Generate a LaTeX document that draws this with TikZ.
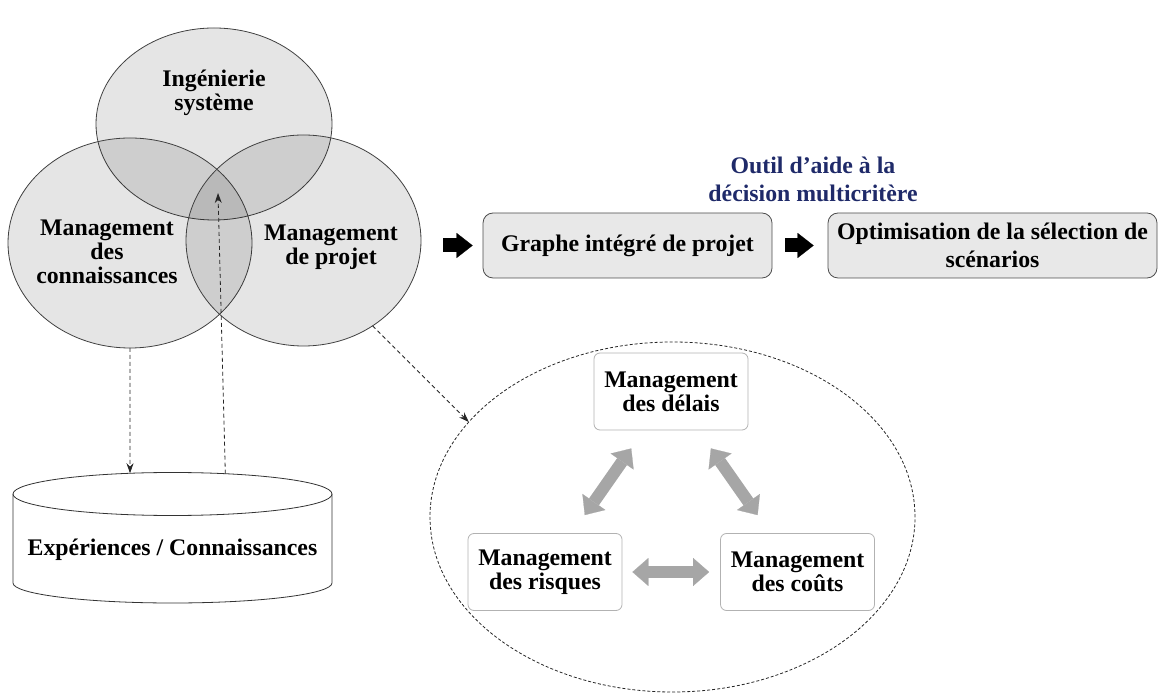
\documentclass[tikz,border=0pt]{standalone}
\usepackage{fontspec}
\setmainfont{Liberation Serif}
\usepackage{xcolor}
\usepackage{tikz}
\usetikzlibrary{positioning,shapes.geometric,arrows.meta}
\definecolor{outilblue}{RGB}{31,42,105}

\begin{document}
\begin{tikzpicture}[x=0.5pt, y=0.5pt, on grid,
    font=\bfseries\fontsize{11.9}{12.1}\selectfont,
    fieldcircle/.style={ellipse, draw=black!75, fill=black, fill opacity=0.1, draw opacity=1, inner sep=0pt, outer sep=0pt},
    fieldtext/.style={align=center, inner sep=0pt},
    procbox/.style={draw=black!70, fill=black!9, rounded corners=5pt, minimum height=32.5pt, align=center, font=\bfseries\fontsize{11.9}{14}\selectfont},
    mgtbox/.style={draw=black!30, fill=white, rounded corners=3pt, minimum width=77pt, minimum height=38.5pt, align=center},
    blockarrow/.style={line width=7pt, -{Triangle[length=8pt, width=12.5pt, line width=0.1pt]}},
    relarrow/.style={line width=6pt, black!35, {Triangle[length=8pt, width=14pt, line width=0.1pt]}-{Triangle[length=8pt, width=14pt, line width=0.1pt]}, shorten <=11pt, shorten >=11pt},
    linkarrow/.style={black!85, dash pattern=on 2pt off 1.5pt, -{Stealth[length=5pt, width=3.5pt]}}]
  \useasboundingbox (0,0) rectangle (1159,695);

  \node[fieldcircle, minimum width=118pt, minimum height=96pt] (is) at (214,571) {};
  \node[fieldcircle, minimum width=122pt, minimum height=105pt] (mc) at (130,452) {};
  \node[fieldcircle, minimum width=117.5pt, minimum height=105.5pt] (mp) at (303.5,454.5) {};
  \node[fieldtext] (is_txt) at (214,602) {Ingénierie\\système};
  \node[fieldtext] (mc_txt) at (107,443) {Management\\des\\connaissances};
  \node[fieldtext] (mp_txt) at (331,448) {Management\\de projet};

  \node[procbox, minimum width=144.5pt] (graphe) at (627.5,449.5) {Graphe intégré de projet};
  \node[procbox, minimum width=164.5pt, right=182.5pt of graphe] (optim) {Optimisation de la sélection de\\scénarios};
  \node[fieldtext, text=outilblue, font=\bfseries\fontsize{11.9}{14}\selectfont] (outil) at (813,516) {Outil d’aide à la\\décision multicritère};

  \draw[blockarrow, shorten <=11pt, shorten >=5pt] (mp.east |- graphe.west) -- (graphe.west);
  \draw[blockarrow, shorten <=6.5pt, shorten >=7pt] (graphe) -- (optim);

  \draw[black!80, fill=white] (13,201) -- (13,112) arc[start angle=180, end angle=360, x radius=159.5, y radius=20] -- (332,201);
  \node[ellipse, draw=black!80, fill=white, minimum width=159.5pt, minimum height=21.5pt, inner sep=0pt, outer sep=0pt] (dbtop) at (172.5,201) {};
  \node[fieldtext] (db) at (172.5,145) {Expériences / Connaissances};
  \coordinate (core) at (218,502);

  \node[ellipse, draw=black!85, dash pattern=on 1.5pt off 1pt, minimum width=242.5pt, minimum height=175pt, inner sep=0pt, outer sep=0pt] (zoomell) at (672.5,178) {};
  \node[mgtbox] (delais) at (671,303.5) {Management\\des délais};
  \node[mgtbox, below left=90.25pt and 63pt of delais] (risques) {Management\\des risques};
  \node[mgtbox, below right=90.25pt and 63.25pt of delais] (couts) {Management\\des coûts};

  \draw[relarrow] (delais) -- (risques);
  \draw[relarrow] (delais) -- (couts);
  \draw[relarrow, shorten <=5pt, shorten >=5.5pt] (risques) -- (couts);

  \path[linkarrow]
    (mc.south) edge (dbtop.154)
    (dbtop.21) edge (core)
    (mp.-51.5) edge (zoomell.155.4);
\end{tikzpicture}
\end{document}
